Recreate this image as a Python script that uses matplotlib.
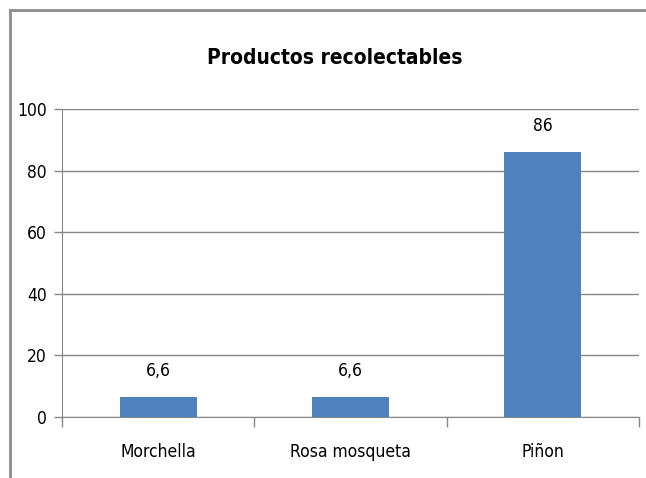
import numpy as np
import matplotlib.pyplot as plt
from matplotlib import font_manager
from matplotlib.patches import Rectangle

categories = ["Morchella", "Rosa mosqueta", "Piñon"]
values = [6.6, 6.6, 86]
value_labels = ["6,6", "6,6", "86"]
y_ticks = [0, 20, 40, 60, 80, 100]

# narrow font if there is one, the reference uses a condensed face
names = {f.name for f in font_manager.fontManager.ttflist}
if 'Liberation Sans Narrow' in names:
    plt.rcParams['font.family'] = ['Liberation Sans Narrow', 'DejaVu Sans']
else:
    plt.rcParams['font.family'] = ['DejaVu Sans']
    plt.rcParams['font.stretch'] = 'condensed'

fs = 12.5

fig = plt.figure(figsize=(6.46, 4.78), dpi=100)

# chart frame
fig.patches.append(Rectangle((10 / 646, -0.05), 1.0, 1 - 10 / 478 + 0.05,
                             transform=fig.transFigure, fill=False,
                             edgecolor='#8c8c8c', linewidth=2))

ax = fig.add_axes([62 / 646, 61 / 478, 577 / 646, 308 / 478])
x = np.arange(len(categories))
ax.bar(x, values, width=0.4, color='#4F81BD', zorder=3)

for xi, v, lab in zip(x, values, value_labels):
    ax.annotate(lab, (xi, v), xytext=(0, 12), textcoords='offset points',
                ha='center', va='bottom', fontsize=fs)

ax.set_xlim(-0.5, 2.5)
ax.set_ylim(0, 100)
ax.set_yticks(y_ticks)
ax.set_yticklabels([str(t) for t in y_ticks], fontsize=fs)
ax.yaxis.grid(True, color='#878787', linewidth=1, zorder=0)

ax.set_xticks(x)
ax.set_xticklabels(categories, fontsize=fs)
ax.tick_params(axis='x', which='major', length=0, pad=19)
ax.set_xticks([-0.5, 0.5, 1.5, 2.5], minor=True)
ax.tick_params(axis='x', which='minor', length=7, color='#878787', width=1)
ax.tick_params(axis='y', length=6, color='#878787', width=1, pad=5)

for s in ['top', 'right']:
    ax.spines[s].set_visible(False)
for s in ['left', 'bottom']:
    ax.spines[s].set_color('#878787')

fig.text(335 / 646, 1 - 58 / 478, "Productos recolectables", ha='center',
         va='center', fontsize=15, fontweight='bold')

fig.savefig("out.png", dpi=100)
